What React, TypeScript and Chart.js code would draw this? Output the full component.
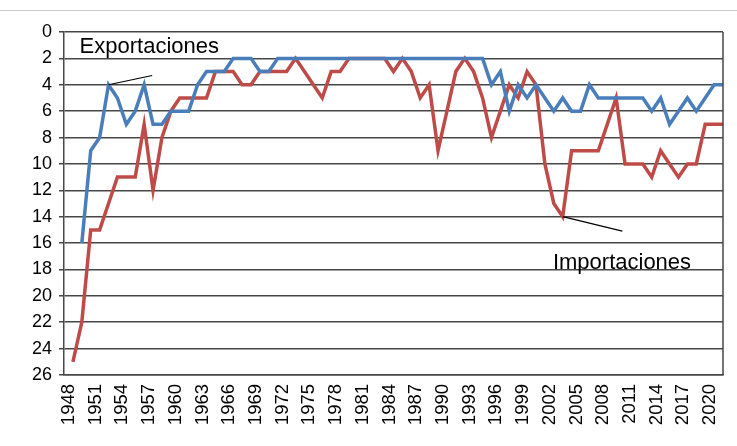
import { useEffect, useRef } from 'react';
import { Chart, registerables } from 'chart.js';

Chart.register(...registerables);

const FIRST_YEAR = 1947;
const LAST_YEAR = 2021;
const years: string[] = Array.from({ length: LAST_YEAR - FIRST_YEAR + 1 }, (_, i) => String(FIRST_YEAR + i));

const tickYears: string[] = [
  '1948', '1951', '1954', '1957', '1960', '1963', '1966', '1969', '1972', '1975', '1978', '1981',
  '1984', '1987', '1990', '1993', '1996', '1999', '2002', '2005', '2008', '2011', '2014', '2017', '2020',
];

// 1947 .. 2021
const exportaciones: (number | null)[] = [
  null, null, 16,
  9, 8, 4, 5, 7, 6, 4, 7, 7, 6,
  6, 6, 4, 3, 3, 3, 2, 2, 2, 3,
  3, 2, 2, 2, 2, 2, 2, 2, 2, 2,
  2, 2, 2, 2, 2, 2, 2, 2, 2, 2,
  2, 2, 2, 2, 2, 4, 3, 6, 4, 5,
  4, 5, 6, 5, 6, 6, 4, 5, 5, 5,
  5, 5, 5, 6, 5, 7, 6, 5, 6, 5,
  4, 4,
];

const importaciones: (number | null)[] = [
  null, 25, 22,
  15, 15, 13, 11, 11, 11, 7, 12, 8, 6,
  5, 5, 5, 5, 3, 3, 3, 4, 4, 3,
  3, 3, 3, 2, 3, 4, 5, 3, 3, 2,
  2, 2, 2, 2, 3, 2, 3, 5, 4, 9,
  6, 3, 2, 3, 5, 8, 6, 4, 5, 3,
  4, 10, 13, 14, 9, 9, 9, 9, 7, 5,
  10, 10, 10, 11, 9, 10, 11, 10, 10, 7,
  7, 7,
];

const yTicks: number[] = [0, 2, 4, 6, 8, 10, 12, 14, 16, 18, 20, 22, 24, 26];

// annotation labels in data units (year, value)
const annotationTexts: string[] = ['Exportaciones', 'Importaciones'];
const annotationTextPos: [number, number][] = [[1948.75, 1.1], [2001.9, 17.5]];
const annotationLineFrom: [number, number][] = [[1952, 4], [2003, 14]];
const annotationLineTo: [number, number][] = [[1956.9, 3.3], [2009.7, 15.1]];

const FONT = "'Liberation Sans', Arial, sans-serif";
const GRID = '#474747';

export default function App() {
  const ref = useRef<HTMLCanvasElement | null>(null);

  useEffect(() => {
    if (!ref.current) return;

    const overlay = {
      id: 'overlay',
      afterDraw(chart: any) {
        const { ctx, chartArea, scales } = chart;
        const xs = scales.x;
        const ys = scales.y;
        const p0 = xs.getPixelForValue(0);
        const p1 = xs.getPixelForValue(1);
        const px = (yr: number) => p0 + (yr - FIRST_YEAR) * (p1 - p0);
        const py = (v: number) => ys.getPixelForValue(v);
        ctx.save();
        ctx.strokeStyle = GRID;
        ctx.lineWidth = 1.5;
        ctx.beginPath();
        ctx.moveTo(chartArea.right, chartArea.top);
        ctx.lineTo(chartArea.right, chartArea.bottom);
        ctx.stroke();
        ctx.strokeStyle = '#000';
        ctx.lineWidth = 1.2;
        ctx.fillStyle = '#000';
        ctx.font = `22px ${FONT}`;
        ctx.textAlign = 'left';
        ctx.textBaseline = 'middle';
        annotationTexts.forEach((t, i) => {
          const [fx, fy] = annotationLineFrom[i];
          const [tx, ty] = annotationLineTo[i];
          ctx.beginPath();
          ctx.moveTo(px(fx), py(fy));
          ctx.lineTo(px(tx), py(ty));
          ctx.stroke();
          const [ax, ay] = annotationTextPos[i];
          ctx.fillText(t, px(ax), py(ay));
        });
        ctx.restore();
      },
    };

    const chart = new Chart(ref.current, {
      type: 'line',
      data: {
        labels: years,
        datasets: [
          {
            label: 'Exportaciones',
            data: exportaciones,
            borderColor: '#4a7ebb',
            borderWidth: 3.5,
            pointRadius: 0,
            tension: 0,
            spanGaps: false,
          },
          {
            label: 'Importaciones',
            data: importaciones,
            borderColor: '#be4b48',
            borderWidth: 3.5,
            pointRadius: 0,
            tension: 0,
            spanGaps: false,
          },
        ],
      },
      options: {
        animation: false,
        responsive: false,
        layout: { padding: { top: 32, right: 14, left: 0, bottom: 0 } },
        plugins: {
          legend: { display: false },
          tooltip: { enabled: false },
        },
        scales: {
          x: {
            type: 'category',
            offset: false,
            grid: { display: false, drawTicks: false },
            border: { display: true, color: GRID, width: 1.5 },
            ticks: {
              autoSkip: false,
              minRotation: 90,
              maxRotation: 90,
              padding: 9,
              labelOffset: -4,
              color: '#000',
              font: { family: FONT, size: 18.5 },
              callback: (_v: any, i: number) => (tickYears.includes(years[i]) ? years[i] : ''),
            },
            afterFit: (s: any) => {
              s.height = 71;
              s.paddingLeft = 0;
              s.paddingRight = 0;
            },
          },
          y: {
            reverse: true,
            min: 0,
            max: 26,
            afterBuildTicks: (s: any) => {
              s.ticks = yTicks.map((v) => ({ value: v }));
            },
            grid: { color: GRID, lineWidth: 1.5, tickLength: 5, drawTicks: true },
            border: { display: true, color: GRID, width: 1.5 },
            ticks: {
              padding: 7,
              color: '#000',
              font: { family: FONT, size: 18 },
            },
            afterFit: (s: any) => {
              s.width = 64;
              s.paddingTop = 0;
              s.paddingBottom = 0;
            },
          },
        },
      },
      plugins: [overlay],
    });

    return () => chart.destroy();
  }, []);

  return (
    <div style={{ position: 'absolute', left: 0, top: 0, width: 737, height: 446, background: '#fff' }}>
      <canvas ref={ref} width={737} height={446} style={{ display: 'block' }} />
      <div
        style={{
          position: 'absolute',
          left: 0,
          top: 10,
          width: 737,
          height: 0,
          borderTop: '1px solid #c8c8c8',
        }}
      />
    </div>
  );
}
